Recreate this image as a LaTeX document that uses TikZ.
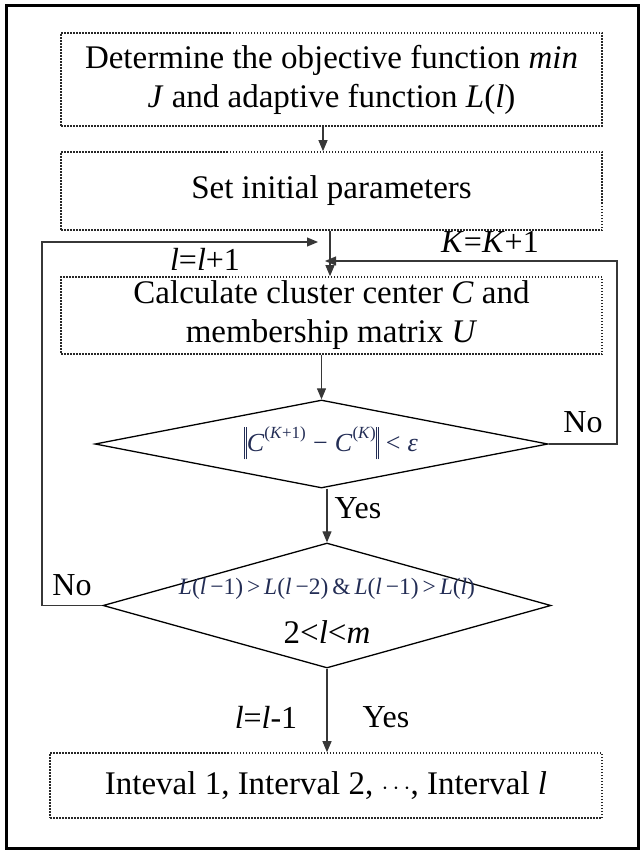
\documentclass[tikz,border=0pt]{standalone}
\usepackage{fontspec}
\setmainfont{Liberation Serif}
\usetikzlibrary{shapes.geometric,arrows.meta}
\definecolor{linec}{RGB}{55,55,55}
\definecolor{dotc}{RGB}{40,40,40}
\definecolor{mathc}{RGB}{35,45,85}
\newcommand{\nrmbar}{\rule[-0.3em]{0.55pt}{1.25em}\hspace{1.6pt}\rule[-0.3em]{0.55pt}{1.25em}}
\begin{document}
\begin{tikzpicture}[x=1pt,y=-1pt,
  dotbox/.style={draw=dotc, line width=1.6pt, dash pattern=on 1.5pt off 1.5pt, inner sep=0pt, font=\fontsize{33}{39}\selectfont, align=center},
  dec/.style={draw=black, line width=1.3pt, shape=diamond, inner sep=0pt},
  arr/.style={draw=linec, line width=1.1pt, -{Triangle[length=11pt,width=9pt]}},
  lbl/.style={font=\fontsize{32}{39}\selectfont, inner sep=0pt}]
\useasboundingbox (0,0) rectangle (644,851);
\draw[line width=3pt] (6,6) rectangle (638,848);

\node[dotbox, minimum width=541pt, minimum height=93pt] (b1) at (331.5,79.5)
  {Determine the objective function \textit{min}\\\textit{J} and adaptive function \textit{L}(\textit{l})};
\node[dotbox, minimum width=541pt, minimum height=78pt] (b2) at (331.5,191) {Set initial parameters};
\node[dotbox, minimum width=541pt, minimum height=77pt] (b3) at (331.5,315.5)
  {Calculate cluster center \textit{C} and\\membership matrix \textit{U}};
\node[dec, minimum width=453pt, minimum height=88pt] (d1) at (321.5,444) {};
\node[dec, minimum width=448pt, minimum height=125pt] (d2) at (327,605.5) {};
\node[dotbox, minimum width=552pt, minimum height=65pt] (b4) at (326,785.5)
  {Inteval 1, Interval 2, $\cdots$, Interval \textit{l}};

\node[inner sep=0pt, text=mathc, font=\fontsize{26}{30}\selectfont] (t1) at (331,443)
  {\nrmbar\textit{C}\raisebox{0.5em}{\fontsize{17}{19}\selectfont(\textit{K}+1)}\;−\;\textit{C}\raisebox{0.5em}{\fontsize{17}{19}\selectfont(\textit{K})}\nrmbar\;<\;\textit{ε}};
\node[inner sep=0pt, text=mathc, font=\fontsize{23.5}{28}\selectfont] (t2) at (327,589)
  {\textit{L}(\textit{l}\,−1)\,>\,\textit{L}(\textit{l}\,−2)\,\&\,\textit{L}(\textit{l}\,−1)\,>\,\textit{L}(\textit{l})};
\node[lbl, font=\fontsize{33}{39}\selectfont] (t3) at (327,632) {2<\textit{l}<\textit{m}};

\coordinate (colA) at (323,0);
\coordinate (colB) at (330,0);
\coordinate (lcorner) at (42,242);
\coordinate (lend) at (318,242);
\coordinate (rcorner) at (617,261);
\coordinate (rend) at (325,261);

\draw[arr] (b1.south -| colA) -- (b2.north -| colA);
\draw[arr] (b2.south -| colB) -- (b3.north -| colB);
\draw[arr] (b3.south -| d1.north) -- (d1.north);
\draw[arr] (d1.south -| d2.north) -- (d2.north);
\draw[arr] (d2.south) -- (b4.north -| d2.south);
\draw[arr] (d2.west) -| (lcorner) -- (lend);
\draw[arr] (d1.east) -| (rcorner) -- (rend);

\node[lbl] (l1) at (205,259) {\textit{l}=\textit{l}+1};
\node[lbl] (l2) at (490,242) {\textit{K}=\textit{K}+1};
\node[lbl] (l3) at (583,422) {No};
\node[lbl] (l4) at (358,508) {Yes};
\node[lbl] (l5) at (72,585) {No};
\node[lbl] (l6) at (266,717) {\textit{l}=\textit{l}-1};
\node[lbl] (l7) at (386,717) {Yes};
\end{tikzpicture}
\end{document}
